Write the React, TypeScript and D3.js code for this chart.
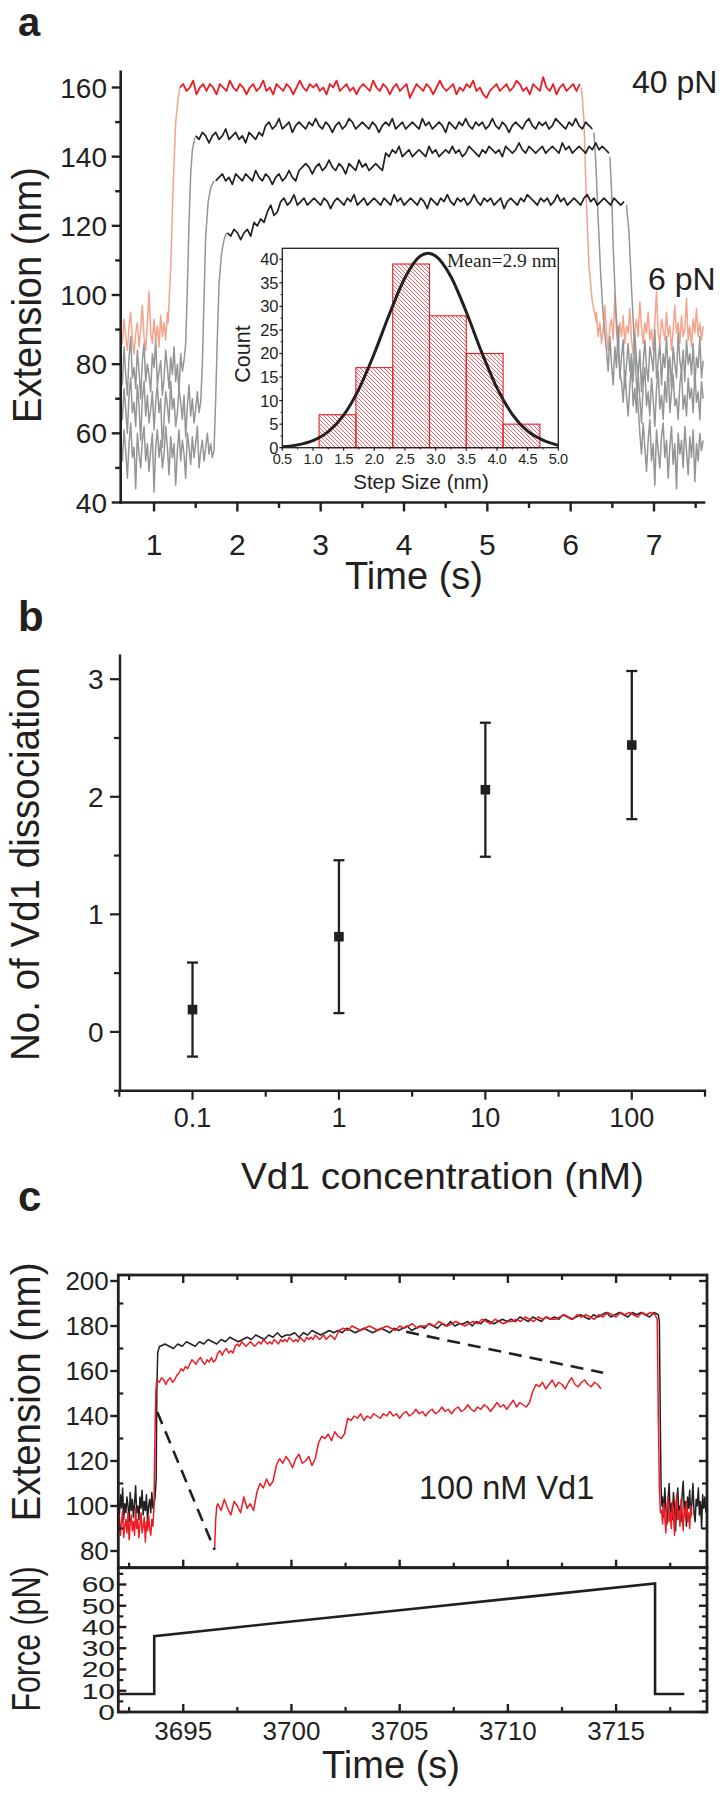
import React from 'react';
import * as d3 from 'd3';

const W = 725, H = 1807;
const SANS = "'Liberation Sans', Arial, Helvetica, sans-serif";
const SERIF = "'Liberation Serif', 'Times New Roman', serif";
const RED = '#ec1c24', SALMON = '#f6a38b', GRAY = '#939598', INK = '#231f20';

type Pt = [number, number];
const nums = (s: string) => s.trim().split(/\s+/).map(Number);
const series = (t0: number, dt: number, s: string): Pt[] => nums(s).map((v, i) => [t0 + i * dt, v] as Pt);

// ---------------- Panel a data ----------------
const A_X_TICKS = [1, 2, 3, 4, 5, 6, 7];
const A_X_MINOR = [1.5, 2.5, 3.5, 4.5, 5.5, 6.5, 7.5];
const A_Y_TICKS = [40, 60, 80, 100, 120, 140, 160];
const A_Y_MINOR = [50, 70, 90, 110, 130, 150];

const A_RED_LOWL = series(0.6, 0.02, "90 86 93 88 84 91 95 87 83 89 92 85 90 97 88 84 92 101 89 86 93 87 91 85 94 88 92 87 95");
const A_RED_RISE: Pt[] = [[1.17, 92], [1.2, 108], [1.23, 132], [1.26, 150], [1.29, 157], [1.31, 160]];
const A_RED_PLAT = series(1.31, 0.04, `160 161 159 160 162 158 160 161 159 161
160 158 161 160 159 162 160 159 161 160 158 160 161 159 160 162 159 160 158 161
160 159 161 160 158 160 162 160 159 161 160 161 159 160 158 161 160 162 159 160
161 159 160 158 160 161 160 159 162 160 159 161 160 158 160 161 159 160 161 157
159 161 160 159 161 160 158 160 162 160 159 160 161 158 160 159 161 160 162 159
160 158 157 159 160 161 159 160 161 159 160 162 161 159 160 158 161 160 159 163
160 159 161 158 160 161 159 160 161 159 161`);
const A_RED_FALL: Pt[] = [[6.13, 160], [6.16, 150], [6.19, 126], [6.22, 108], [6.26, 98], [6.31, 92]];
const A_RED_LOWR = series(6.31, 0.02, `95 88 92 86 90 97 89 84 91 93 87 100 90 85 92 88 94 86 91 89
96 87 83 90 93 88 98 91 86 92 89 95 87 90 84 92 101 89 86 93 90 87 95 88 91 84 90 97 89 92
86 94 88 90 99 87 91 85 93 89 96 88 92 87 91`);

const A_G1_LOWL = series(0.6, 0.02, "80 74 85 77 71 82 88 76 79 73 84 78 70 81 86 75 80 77 72 83 79 87 74 78 81 71 76 84 79 73 82 77 85 75 80 72 83 78 81");
const A_G1_RISE: Pt[] = [[1.38, 86], [1.4, 102], [1.42, 121], [1.44, 135], [1.46, 142], [1.49, 145.5]];
const A_G1_PLAT = series(1.5, 0.04, `146 145 147 146 144 146 147 145 146 148 145 146 147 145 146 144 147 146 145 147 146
149 150 148 149 151 148 149 150 147 149 150 149 148 150 149 151 149 148 150 149
147 149 150 148 149 151 150 148 149 150 149 148 150 149 147 149 150 149 151 148
149 150 148 149 150 149 148 151 149 150 148 149 150 149 147 150 149 148 150 149
151 149 148 150 149 150 148 149 151 149 148 150 149 147 149 150 149 148 150 151
149 148 150 149 150 148 149 151 150 149 148 150 149 151 149 148 150 149 148`);
const A_G1_FALL: Pt[] = [[6.28, 147], [6.3, 139], [6.33, 122], [6.36, 106], [6.39, 94], [6.42, 86]];
const A_G1_LOWR = series(6.43, 0.02, `84 78 88 80 74 85 79 91 76 82 87 73 80 86 78 83 75 89 81 77
84 72 80 87 79 75 85 82 78 90 76 81 86 74 83 79 88 77 82 73 85 80 76 89 81 78 84 75 87 80
83 77 86 74 82 79 88 76 81`);

const A_G2_LOWL = series(0.6, 0.02, `70 64 73 67 60 71 76 66 69 62 74 68 58 70 75 65 71 63 67 72
61 69 74 66 70 56 64 72 68 63 75 67 70 62 66 73 69 64 71 59 68 74 65 70 63 67 72 66 69`);
const A_G2_RISE: Pt[] = [[1.58, 80], [1.6, 99], [1.62, 117], [1.65, 127], [1.68, 131], [1.72, 133]];
const A_G2_PLAT = series(1.74, 0.04, `133 134 135 133 134 132 135 134 133 135 134 133 136 134 133 135 134 132 134 135 133 134 136 134 133
136 137 138 137 135 137 138 136 137 139 137 136 138 137 135 138 137 136 139 137 138 136 137 138 137 136
141 140 142 141 143 140 141 142 140 141 142 141 140 143 141 142 140 141 142 141
143 141 142 140 141 143 142 141 140 142 141 143 142 141 142 140 143 142 141 142
144 142 141 143 142 141 142 143 141 142 143 142 141 144 142 143 141 142 143 142
141 143 142 144 142 143 142 141`);
const A_G2_FALL: Pt[] = [[6.47, 140], [6.49, 131], [6.51, 114], [6.54, 97], [6.57, 84], [6.6, 76]];
const A_G2_LOWR = series(6.61, 0.02, `75 69 78 71 65 74 80 68 73 66 77 70 63 74 79 68 72 65 76 70
62 73 78 67 71 64 75 69 81 66 72 77 68 70 64 74 79 67 71 65 76 70 73 66 78 69 72 64 75 70`);

const A_G3_LOWL = series(0.6, 0.02, `58 52 61 55 47 57 63 53 56 44 60 54 50 58 62 52 57 49 55 60
43 56 61 53 58 50 54 62 56 48 59 53 57 45 55 61 52 58 54 47 60 56 51 59 53 57 62 50 55 58
52 56 60 54 57 53 55`);
const A_G3_RISE: Pt[] = [[1.74, 70], [1.76, 88], [1.78, 103], [1.81, 112], [1.84, 116], [1.87, 118]];
const A_G3_PLAT = series(1.88, 0.04, `118 117 119 118 116 118 119 117 121 120 122 121 124 126 123 124
127 128 126 127 129 126 127 128 126 127 128 127 126 128 127 125 127 128 127 126
128 127 129 126 127 128 126 127 128 127 126 128 127 126 129 127 128 126 127 128
127 126 128 127 125 128 127 126 128 127 129 127 126 128 127 128 126 127 129 127
126 128 127 128 126 127 128 125 127 128 127 126 128 127 129 128 127 126 128 127
128 126 127 129 127 128 126 127 128 127 126 128 129 127 128 126 127 128 127 126
128 127 126 127`);
const A_G3_FALL: Pt[] = [[6.67, 126], [6.7, 118], [6.73, 102], [6.76, 88], [6.79, 74], [6.82, 64]];
const A_G3_LOWR = series(6.83, 0.02, `60 54 63 56 49 58 64 52 57 45 61 55 50 59 63 53 58 47 56 62
51 57 44 60 54 58 50 62 55 48 59 53 61 46 57 52 60 55 58`);

// inset histogram
const I_BIN_LO = [1.1, 1.7, 2.3, 2.9, 3.5, 4.1];
const I_BIN_HI = [1.7, 2.3, 2.9, 3.5, 4.1, 4.7];
const I_COUNT = [7, 17, 39, 28, 20, 5];
const I_FIT_X = [0.5, 0.75, 1.0, 1.25, 1.5, 1.75, 2.0, 2.25, 2.5, 2.75, 2.88, 3.0, 3.25, 3.5, 3.75, 4.0, 4.25, 4.5, 4.75, 5.0];
const I_FIT_Y = [0.2, 0.6, 1.5, 3.4, 6.9, 12.5, 20.0, 28.5, 36.1, 40.7, 41.3, 40.7, 36.3, 28.8, 20.3, 12.7, 7.1, 3.5, 1.6, 0.5];
const I_X_TICKS = [0.5, 1.0, 1.5, 2.0, 2.5, 3.0, 3.5, 4.0, 4.5, 5.0];
const I_X_MINOR = [0.75, 1.25, 1.75, 2.25, 2.75, 3.25, 3.75, 4.25, 4.75];
const I_Y_TICKS = [0, 5, 10, 15, 20, 25, 30, 35, 40];
const I_Y_MINOR = [2.5, 7.5, 12.5, 17.5, 22.5, 27.5, 32.5, 37.5];

// ---------------- Panel b data ----------------
const B_CONC = [0.1, 1, 10, 100];
const B_MEAN = [0.19, 0.81, 2.06, 2.44];
const B_ERR = [0.40, 0.65, 0.57, 0.63];
const B_X_TICKS = [0.1, 1, 10, 100];
const B_X_LABELS = ['0.1', '1', '10', '100'];
const B_X_MINOR = [10 ** -1.5, 10 ** -0.5, 10 ** 0.5, 10 ** 1.5, 10 ** 2.5];
const B_Y_TICKS = [0, 1, 2, 3];
const B_Y_MINOR = [-0.5, 0.5, 1.5, 2.5];

// ---------------- Panel c data ----------------
const C_X_TICKS = [3695, 3700, 3705, 3710, 3715];
const C_X_MINOR = [3692.5, 3697.5, 3702.5, 3707.5, 3712.5, 3717.5];
const C_Y_TICKS = [80, 100, 120, 140, 160, 180, 200];
const C_Y_MINOR = [90, 110, 130, 150, 170, 190];
const C_F_TICKS = [0, 10, 20, 30, 40, 50, 60];
const C_F_MINOR = [5, 15, 25, 35, 45, 55, 65];

const C_BLK_LOWL = series(3692, 0.05, "102 96 105 99 108 94 101 97 104 100 93 106 98 103 95 101 109 97 100 94 104 99 107 96 102 98 105 93 100 103 97 106 99 101 104");
const C_BLK_RISE: Pt[] = [[3693.75, 112], [3693.78, 150], [3693.82, 168], [3693.9, 171]];
const C_BLK_PLAT = series(3693.95, 0.2, `171 172 171 170 172 171 173 172 171 173 172 174 173 172 174 173 175 174 173 174
175 174 176 175 174 176 175 177 175 176 176 177 175 177 176 178 177 176 177 178
177 178 177 179 178 177 178 179 178 177 178 179 178 177 179 178 179 180 178 179
180 179 181 180 179 181 180 182 180 181 181 182 180 182 181 183 182 181 182 183
182 183 182 184 183 182 184 183 182 184 183 184 183 185 184 183 184 185 184 183
185 184 185 186 184 185 186 185 184 186 185 186 185 184 186 185`);
const C_BLK_FALL: Pt[] = [[3717.0, 182], [3717.04, 140], [3717.08, 108], [3717.12, 100]];
const C_BLK_LOWR = series(3717.15, 0.05, `104 95 108 99 92 103 110 97 101 94 106 99 89 102 108 96 100 93 105 111
98 102 91 104 99 107 95 101 110 97 93 103 100 108 96 102 90 105 99 104 97`);

const C_RED_LOWL = series(3692, 0.05, "90 95 87 93 98 86 91 94 88 97 85 92 96 89 93 87 99 90 94 86 92 97 88 91 95 84 93 89 96 90 87 94 91");
const C_RED_RISE: Pt[] = [[3693.65, 100], [3693.7, 135], [3693.74, 152], [3693.78, 156]];
const C_RED_PLAT_A = series(3693.8, 0.1, `156 155 157 156 154 156 157 155 156 158 159 161 160 162 161
163 165 164 163 165 166 164 163 165 164 166 164 165 168 169 167 169 170 168 169 168
171 172 171 173 172 171 172 173 172 171 172 173 172 174 173 172 173 172 174 173
172 174 173 174 173 175 174 173 174 173 175 174 173 175 174 175 174 176 175 174
175 176 174 175 176 175 174 176`);
const C_RED_PLAT_B = series(3702.2, 0.2, `178 179 178 180 179 178 179 180 179 178 179 180 179 178 180 179 180 181 179 180
180 181 180 182 181 180 181 182 181 180 181 182 181 183 182 181 183 182 181 182
182 183 182 184 183 182 184 183 184 183 183 184 185 184 183 185 184 185 184 183
185 184 186 185 184 186 185 186 185 184 186 185 186 185`);
const C_RED_FALL: Pt[] = [[3716.9, 183], [3716.95, 140], [3717.0, 108], [3717.05, 97]];
const C_RED_LOWR = series(3717.1, 0.05, "98 92 101 95 88 99 104 93 97 90 102 96 87 100 105 94 98 91 103 97 89 99 95 102 93 97 90 100 96");

const C_LOWER_START: Pt[] = [[3696.45, 81], [3696.5, 94], [3696.55, 100]];
const C_LOWER = series(3696.6, 0.15, `101 98 103 99 96 102 100 97 104 99 101 98
106 110 108 112 109 111
118 121 119 122 120 117 121 123 119 120 122 118 121
128 131 130 132 129 133 131 130 132
139 138 140 139 141 138 140 139 141 140 139 141 140 142 140 141 139 141 142 140
141 143 141 142 140 142 143 141 142 144 142 143 141 143 144 142 143 145 143 142
144 143 145 144 142 144 146 144 145 143 145 147 144 146 145 144 146
151 154 153 155 152 154 156 153 155 154 152 155 157 154 153 155 156 154 153 155 154 152`);

const C_DASH1: Pt[] = [[3693.8, 141.8], [3696.45, 80.5]];
const C_DASH2: Pt[] = [[3705.3, 177.4], [3714.4, 159.2]];

const C_FORCE_T = [3692, 3693.66, 3693.66, 3699, 3705, 3711, 3716.8, 3716.8, 3718.15];
const C_FORCE_F = [8.5, 8.5, 35.7, 41.5, 47.9, 54.3, 60.5, 8.5, 8.5];

// ---------------- Scales ----------------
const xA = d3.scaleLinear().domain([0.6, 7.6]).range([120.7, 704]);
const yA = d3.scaleLinear().domain([40, 160]).range([502.5, 87.5]);
const xI = d3.scaleLinear().domain([0.5, 5.0]).range([282.3, 558.3]);
const yI = d3.scaleLinear().domain([0, 40]).range([447.7, 259.3]);
const xB = d3.scaleLog().domain([10 ** -1.5, 10 ** 2.5]).range([119.3, 705]);
const yB = d3.scaleLinear().domain([-0.5, 3.2]).range([1090.7, 655.7]);
const xC = d3.scaleLinear().domain([3692, 3719.2]).range([118.3, 707]);
const yCt = d3.scaleLinear().domain([80, 200]).range([1551, 1281]);
const yCf = d3.scaleLinear().domain([0, 60]).range([1712, 1584.5]);

const lineA = d3.line<Pt>().x(d => xA(d[0])).y(d => yA(d[1]));
const lineC = d3.line<Pt>().x(d => xC(d[0])).y(d => yCt(d[1]));
const fitLine = d3.line<number>().x((d, i) => xI(I_FIT_X[i])).y(d => yI(d)).curve(d3.curveMonotoneX);
const forceLine = d3.line<number>().x((d, i) => xC(C_FORCE_T[i])).y(d => yCf(d));

const vTicks = (vals: number[], sx: (v: number) => number, y: number, len: number, sw: number, k: string) =>
  vals.map((v, i) => <line key={k + i} x1={sx(v)} x2={sx(v)} y1={y} y2={y + len} stroke={INK} strokeWidth={sw} />);
const hTicks = (vals: number[], sy: (v: number) => number, x: number, len: number, sw: number, k: string) =>
  vals.map((v, i) => <line key={k + i} x1={x} x2={x + len} y1={sy(v)} y2={sy(v)} stroke={INK} strokeWidth={sw} />);

const tr = (d: string | null, color: string, w = 1.5) =>
  <path d={d || ''} fill="none" stroke={color} strokeWidth={w} strokeLinejoin="round" />;

function PanelA() {
  const grays = [
    [A_G1_LOWL, A_G1_RISE, A_G1_PLAT, A_G1_FALL, A_G1_LOWR],
    [A_G2_LOWL, A_G2_RISE, A_G2_PLAT, A_G2_FALL, A_G2_LOWR],
    [A_G3_LOWL, A_G3_RISE, A_G3_PLAT, A_G3_FALL, A_G3_LOWR],
  ];
  return (
    <g>
      <text x={18} y={36} fontFamily={SANS} fontWeight="bold" fontSize={40} fill={INK}>a</text>
      {tr(lineA([...A_RED_LOWL, ...A_RED_RISE]), SALMON)}
      {tr(lineA([...A_RED_FALL, ...A_RED_LOWR]), SALMON)}
      {grays.map((g, i) => <g key={'gl' + i}>
        {tr(lineA([...g[0], ...g[1]]), GRAY)}
        {tr(lineA([...g[3], ...g[4]]), GRAY)}
      </g>)}
      {grays.map((g, i) => <g key={'gp' + i}>{tr(lineA(g[2]), INK, 1.7)}</g>)}
      {tr(lineA(A_RED_PLAT), RED, 1.8)}
      <line x1={120.7} x2={120.7} y1={71.7} y2={502.5} stroke={INK} strokeWidth={2.6} strokeLinecap="square" />
      <line x1={120.7} x2={704} y1={502.5} y2={502.5} stroke={INK} strokeWidth={2.6} strokeLinecap="square" />
      {hTicks(A_Y_TICKS, yA, 120.7, -9, 2.4, 'ayt')}
      {hTicks(A_Y_MINOR, yA, 120.7, -5.5, 2.4, 'aym')}
      {vTicks(A_X_TICKS, xA, 502.5, 9, 2.4, 'axt')}
      {vTicks(A_X_MINOR, xA, 502.5, 5.5, 2.4, 'axm')}
      {A_Y_TICKS.map((v, i) => <text key={'ayl' + i} x={107} y={yA(v)} dy="0.36em" textAnchor="end" fontFamily={SANS} fontSize={28} fill={INK}>{v}</text>)}
      {A_X_TICKS.map((v, i) => <text key={'axl' + i} x={xA(v)} y={555} textAnchor="middle" fontFamily={SANS} fontSize={30} fill={INK}>{v}</text>)}
      <text x={414} y={589} textAnchor="middle" fontFamily={SANS} fontSize={38} fill={INK}>Time (s)</text>
      <text transform="translate(40.5,295) rotate(-90)" textAnchor="middle" fontFamily={SANS} fontSize={41} fill={INK} textLength={256} lengthAdjust="spacingAndGlyphs">Extension (nm)</text>
      <text x={632} y={93.3} fontFamily={SANS} fontSize={32} fill={INK}>40 pN</text>
      <text x={648} y={290} fontFamily={SANS} fontSize={32} fill={INK}>6 pN</text>
      <Inset />
    </g>
  );
}

function Inset() {
  return (
    <g>
      <defs>
        <pattern id="hatch" patternUnits="userSpaceOnUse" width={4} height={4}>
          <path d="M-1,-1 L5,5 M3,-1 L5,1 M-1,3 L1,5" stroke={RED} strokeWidth={0.7} />
        </pattern>
        <clipPath id="insetClip"><rect x={282.3} y={248.3} width={276} height={199.4} /></clipPath>
      </defs>
      <rect x={282.3} y={248.3} width={276} height={199.4} fill="#fff" stroke="none" />
      {I_COUNT.map((c, i) => <rect key={'bar' + i} x={xI(I_BIN_LO[i])} y={yI(c)} width={xI(I_BIN_HI[i]) - xI(I_BIN_LO[i])} height={yI(0) - yI(c)} fill="url(#hatch)" stroke={RED} strokeWidth={1.1} />)}
      <path d={fitLine(I_FIT_Y) || ''} fill="none" stroke={INK} strokeWidth={3} clipPath="url(#insetClip)" />
      <rect x={282.3} y={248.3} width={276} height={199.4} fill="none" stroke={INK} strokeWidth={1.3} />
      {hTicks(I_Y_TICKS, yI, 282.3, -3, 1.2, 'iyt')}
      {hTicks(I_Y_MINOR, yI, 282.3, -1.8, 1, 'iym')}
      {vTicks(I_X_TICKS, xI, 447.7, 3, 1.2, 'ixt')}
      {vTicks(I_X_MINOR, xI, 447.7, 1.8, 1, 'ixm')}
      {I_Y_TICKS.map((v, i) => <text key={'iyl' + i} x={278.5} y={yI(v)} dy="0.36em" textAnchor="end" fontFamily={SANS} fontSize={16.5} fill={INK}>{v}</text>)}
      {I_X_TICKS.map((v, i) => <text key={'ixl' + i} x={xI(v)} y={464} textAnchor="middle" fontFamily={SANS} fontSize={14.5} letterSpacing={-0.4} fill={INK}>{v.toFixed(1)}</text>)}
      <text transform="translate(250,354) rotate(-90)" textAnchor="middle" fontFamily={SANS} fontSize={21.5} fill={INK}>Count</text>
      <text x={421} y={489} textAnchor="middle" fontFamily={SANS} fontSize={20.5} fill={INK}>Step Size (nm)</text>
      <text x={447} y={266.7} fontFamily={SERIF} fontSize={19.5} fill={INK}>Mean=2.9 nm</text>
    </g>
  );
}

function PanelB() {
  return (
    <g>
      <text x={18} y={631} fontFamily={SANS} fontWeight="bold" fontSize={42} fill={INK}>b</text>
      <line x1={120} x2={120} y1={655.7} y2={1090.7} stroke={INK} strokeWidth={2.4} strokeLinecap="square" />
      <line x1={120} x2={705} y1={1090.7} y2={1090.7} stroke={INK} strokeWidth={2.4} strokeLinecap="square" />
      {hTicks(B_Y_TICKS, yB, 120, -10, 2.2, 'byt')}
      {hTicks(B_Y_MINOR, yB, 120, -6, 2.2, 'bym')}
      {vTicks(B_X_TICKS, xB, 1090.7, 9, 2.2, 'bxt')}
      {vTicks(B_X_MINOR, xB, 1090.7, 6, 2.2, 'bxm')}
      {B_Y_TICKS.map((v, i) => <text key={'byl' + i} x={103.5} y={yB(v)} dy="0.36em" textAnchor="end" fontFamily={SANS} fontSize={28} fill={INK}>{v}</text>)}
      {B_X_TICKS.map((v, i) => <text key={'bxl' + i} x={xB(v)} y={1127} textAnchor="middle" fontFamily={SANS} fontSize={27} fill={INK}>{B_X_LABELS[i]}</text>)}
      {B_CONC.map((c, i) => {
        const x = xB(c), y0 = yB(B_MEAN[i] - B_ERR[i]), y1 = yB(B_MEAN[i] + B_ERR[i]);
        return (
          <g key={'bp' + i}>
            <line x1={x} x2={x} y1={y0} y2={y1} stroke={INK} strokeWidth={2.3} />
            <line x1={x - 5.5} x2={x + 5.5} y1={y0} y2={y0} stroke={INK} strokeWidth={2.3} />
            <line x1={x - 5.5} x2={x + 5.5} y1={y1} y2={y1} stroke={INK} strokeWidth={2.3} />
            <rect x={x - 4.8} y={yB(B_MEAN[i]) - 4.8} width={9.6} height={9.6} fill={INK} />
          </g>
        );
      })}
      <text transform="translate(39,864) rotate(-90)" textAnchor="middle" fontFamily={SANS} fontSize={41} fill={INK} textLength={394} lengthAdjust="spacingAndGlyphs">No. of Vd1 dissociation</text>
      <text x={241} y={1189} fontFamily={SANS} fontSize={37} fill={INK} textLength={403} lengthAdjust="spacingAndGlyphs">Vd1 concentration (nM)</text>
    </g>
  );
}

function PanelC() {
  const L = 118.3, R = 707, T = 1275, M = 1567.7, B = 1712;
  return (
    <g>
      <text x={18} y={1211} fontFamily={SANS} fontWeight="bold" fontSize={42} fill={INK}>c</text>
      <defs>
        <clipPath id="cTop"><rect x={L} y={T} width={R - L} height={M - T} /></clipPath>
      </defs>
      <g clipPath="url(#cTop)">
        {tr(lineC([...C_BLK_LOWL, ...C_BLK_RISE, ...C_BLK_PLAT, ...C_BLK_FALL, ...C_BLK_LOWR]), INK, 1.5)}
        {tr(lineC([...C_RED_LOWL, ...C_RED_RISE, ...C_RED_PLAT_A, ...C_RED_PLAT_B, ...C_RED_FALL, ...C_RED_LOWR]), RED, 1.5)}
        {tr(lineC([...C_LOWER_START, ...C_LOWER]), RED, 1.5)}
        <path d={lineC(C_DASH1) || ''} fill="none" stroke={INK} strokeWidth={2.6} strokeDasharray="13,8" />
        <path d={lineC(C_DASH2) || ''} fill="none" stroke={INK} strokeWidth={2.6} strokeDasharray="13,8" />
      </g>
      <path d={forceLine(C_FORCE_F) || ''} fill="none" stroke={INK} strokeWidth={2.6} />
      <rect x={L} y={T} width={R - L} height={M - T} fill="none" stroke={INK} strokeWidth={2.8} />
      <rect x={L} y={M} width={R - L} height={B - M} fill="none" stroke={INK} strokeWidth={2.8} />
      {hTicks(C_Y_TICKS, yCt, L, -8, 2.4, 'cyt')}
      {hTicks(C_Y_MINOR, yCt, L, 5, 2.2, 'cym')}
      {hTicks(C_Y_TICKS, yCt, R, -8, 2.4, 'cyrt')}
      {hTicks(C_Y_MINOR, yCt, R, -5, 2.2, 'cyrm')}
      {vTicks(C_X_TICKS, xC, T, 8, 2.4, 'ctt')}
      {vTicks(C_X_MINOR, xC, T, 5, 2.2, 'ctm')}
      {vTicks(C_X_TICKS, xC, M, -8, 2.4, 'cmt')}
      {vTicks(C_X_MINOR, xC, M, -5, 2.2, 'cmm')}
      {hTicks(C_F_TICKS, yCf, L, 8, 2.4, 'cft')}
      {hTicks(C_F_MINOR, yCf, L, 5, 2.2, 'cfm')}
      {hTicks(C_F_TICKS, yCf, R, -8, 2.4, 'cfrt')}
      {hTicks(C_F_MINOR, yCf, R, -5, 2.2, 'cfrm')}
      {vTicks(C_X_TICKS, xC, B, -8, 2.4, 'cbt')}
      {vTicks(C_X_MINOR, xC, B, -5, 2.2, 'cbm')}
      {C_Y_TICKS.map((v, i) => <text key={'cyl' + i} x={108.8} y={yCt(v)} dy="0.36em" textAnchor="end" fontFamily={SANS} fontSize={26} fill={INK}>{v}</text>)}
      {C_F_TICKS.map((v, i) => <text key={'cfl' + i} transform={`translate(115,${yCf(v)}) scale(1,0.72)`} dy="0.36em" textAnchor="end" fontFamily={SANS} fontSize={30} fill={INK}>{v}</text>)}
      {C_X_TICKS.map((v, i) => <text key={'cxl' + i} x={xC(v)} y={1740} textAnchor="middle" fontFamily={SANS} fontSize={26} fill={INK}>{v}</text>)}
      <text x={391} y={1778} textAnchor="middle" fontFamily={SANS} fontSize={38} fill={INK}>Time (s)</text>
      <text transform="translate(39.5,1392) rotate(-90)" textAnchor="middle" fontFamily={SANS} fontSize={41} fill={INK} textLength={259} lengthAdjust="spacingAndGlyphs">Extension (nm)</text>
      <text transform="translate(39.5,1639) rotate(-90)" textAnchor="middle" fontFamily={SANS} fontSize={41} fill={INK} textLength={145} lengthAdjust="spacingAndGlyphs">Force (pN)</text>
      <text x={419} y={1499} fontFamily={SANS} fontSize={32.5} fill={INK}>100 nM Vd1</text>
    </g>
  );
}

export default function App() {
  return (
    <svg width={W} height={H} viewBox={`0 0 ${W} ${H}`} style={{ position: 'absolute', left: 0, top: 0, display: 'block', background: '#fff' }}>
      <rect x={0} y={0} width={W} height={H} fill="#fff" />
      <PanelA />
      <PanelB />
      <PanelC />
    </svg>
  );
}
